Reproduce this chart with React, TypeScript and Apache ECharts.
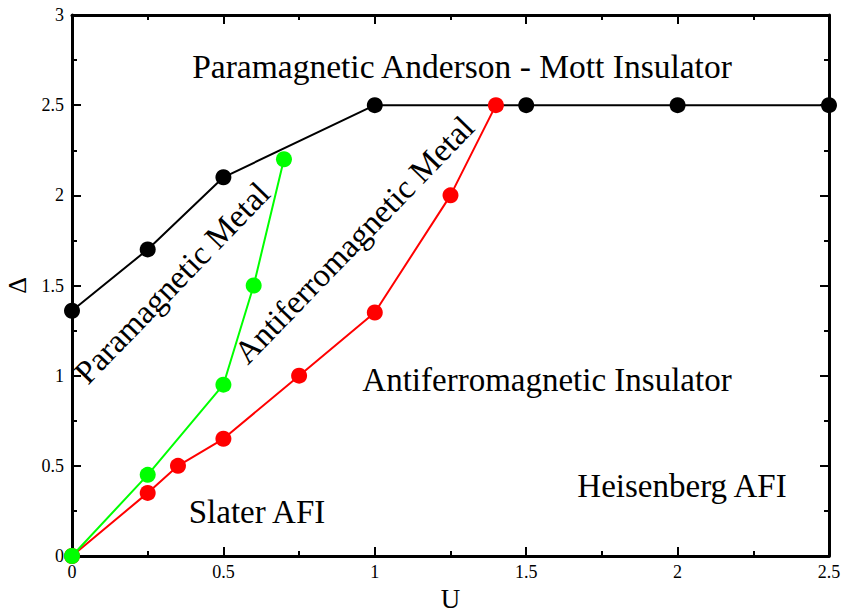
import React, { useEffect, useRef } from "react";
import * as echarts from "echarts";

const blackU = [0, 0.25, 0.5, 1, 1.5, 2, 2.5];
const blackD = [1.36, 1.7, 2.1, 2.5, 2.5, 2.5, 2.5];
const redU = [0, 0.25, 0.35, 0.5, 0.75, 1, 1.25, 1.4];
const redD = [0, 0.35, 0.5, 0.65, 1.0, 1.35, 2.0, 2.5];
const greenU = [0, 0.25, 0.5, 0.6, 0.7];
const greenD = [0, 0.45, 0.95, 1.5, 2.2];

const FONT = "Liberation Serif";

const zip = (a: number[], b: number[]) => a.map((v, i) => [v, b[i]]);

function axisCommon() {
  return {
    type: "value",
    show: true,
    interval: 0.5,
    axisLine: { show: true, onZero: false, lineStyle: { color: "#000000", width: 3, opacity: 1 } },
    axisTick: { show: true, inside: true, length: 9, lineStyle: { color: "#000000", width: 2, opacity: 1 } },
    minorTick: { show: true, splitNumber: 2, length: 5, lineStyle: { color: "#000000", width: 2, opacity: 1 } },
    splitLine: { show: false },
    minorSplitLine: { show: false },
  };
}

export default function App() {
  const ref = useRef<HTMLDivElement>(null);
  useEffect(() => {
    if (!ref.current) return;
    const chart = echarts.init(ref.current, undefined, { renderer: "svg" });
    const annot = (text: string, x: number, y: number, rot = 0, size = 33) => ({
      type: "text",
      x,
      y,
      rotation: rot,
      z: 50,
      style: {
        text,
        fill: "#000",
        fontFamily: FONT,
        fontSize: size,
        align: "center",
        verticalAlign: "middle",
      },
    });
    const series = (name: string, u: number[], d: number[], color: string, z: number) => ({
      name,
      type: "line",
      data: zip(u, d),
      symbol: "circle",
      symbolSize: 16,
      z,
      lineStyle: { color, width: 2 },
      itemStyle: { color },
      clip: false,
    });
    chart.setOption({
      animation: false,
      backgroundColor: "#fff",
      grid: { left: 72, right: 15, top: 15, bottom: 54, outerBoundsMode: "none", containLabel: false },
      xAxis: [
        {
          ...axisCommon(),
          min: 0,
          max: 2.5,
          position: "bottom",
          name: "U",
          nameLocation: "middle",
          nameGap: 41,
          nameTextStyle: {
            fontFamily: FONT,
            fontSize: 27,
            color: "#000",
            verticalAlign: "middle",
            lineHeight: 20,
          },
          axisLabel: { fontFamily: FONT, fontSize: 18, color: "#000", margin: 7 },
        },
        {
          ...axisCommon(),
          min: 0,
          max: 2.5,
          position: "top",
          axisLabel: { show: false },
        },
      ],
      yAxis: [
        {
          ...axisCommon(),
          min: 0,
          max: 3,
          position: "left",
          name: "Δ",
          nameLocation: "middle",
          nameGap: 45,
          nameRotate: 90,
          nameTextStyle: {
            fontFamily: FONT,
            fontSize: 26,
            color: "#000",
            verticalAlign: "middle",
            lineHeight: 20,
          },
          axisLabel: { fontFamily: FONT, fontSize: 18, color: "#000", margin: 8 },
        },
        {
          ...axisCommon(),
          min: 0,
          max: 3,
          position: "right",
          axisLabel: { show: false },
        },
      ],
      series: [
        series("black", blackU, blackD, "#000000", 2),
        series("red", redU, redD, "#ff0000", 3),
        series("green", greenU, greenD, "#00ff00", 4),
      ],
      graphic: [
        annot("Paramagnetic Anderson - Mott Insulator", 462, 66, 0, 33.5),
        annot("Antiferromagnetic Insulator", 547, 380),
        annot("Heisenberg AFI", 682, 486),
        annot("Slater AFI", 257, 512),
        annot("Paramagnetic Metal", 172, 283, (46 * Math.PI) / 180),
        annot("Antiferromagnetic Metal", 354, 240, (46 * Math.PI) / 180),
      ],
    });
    return () => chart.dispose();
  }, []);
  return (
    <div
      ref={ref}
      style={{ position: "fixed", left: 0, top: 0, width: 844, height: 610, background: "#fff" }}
    />
  );
}
